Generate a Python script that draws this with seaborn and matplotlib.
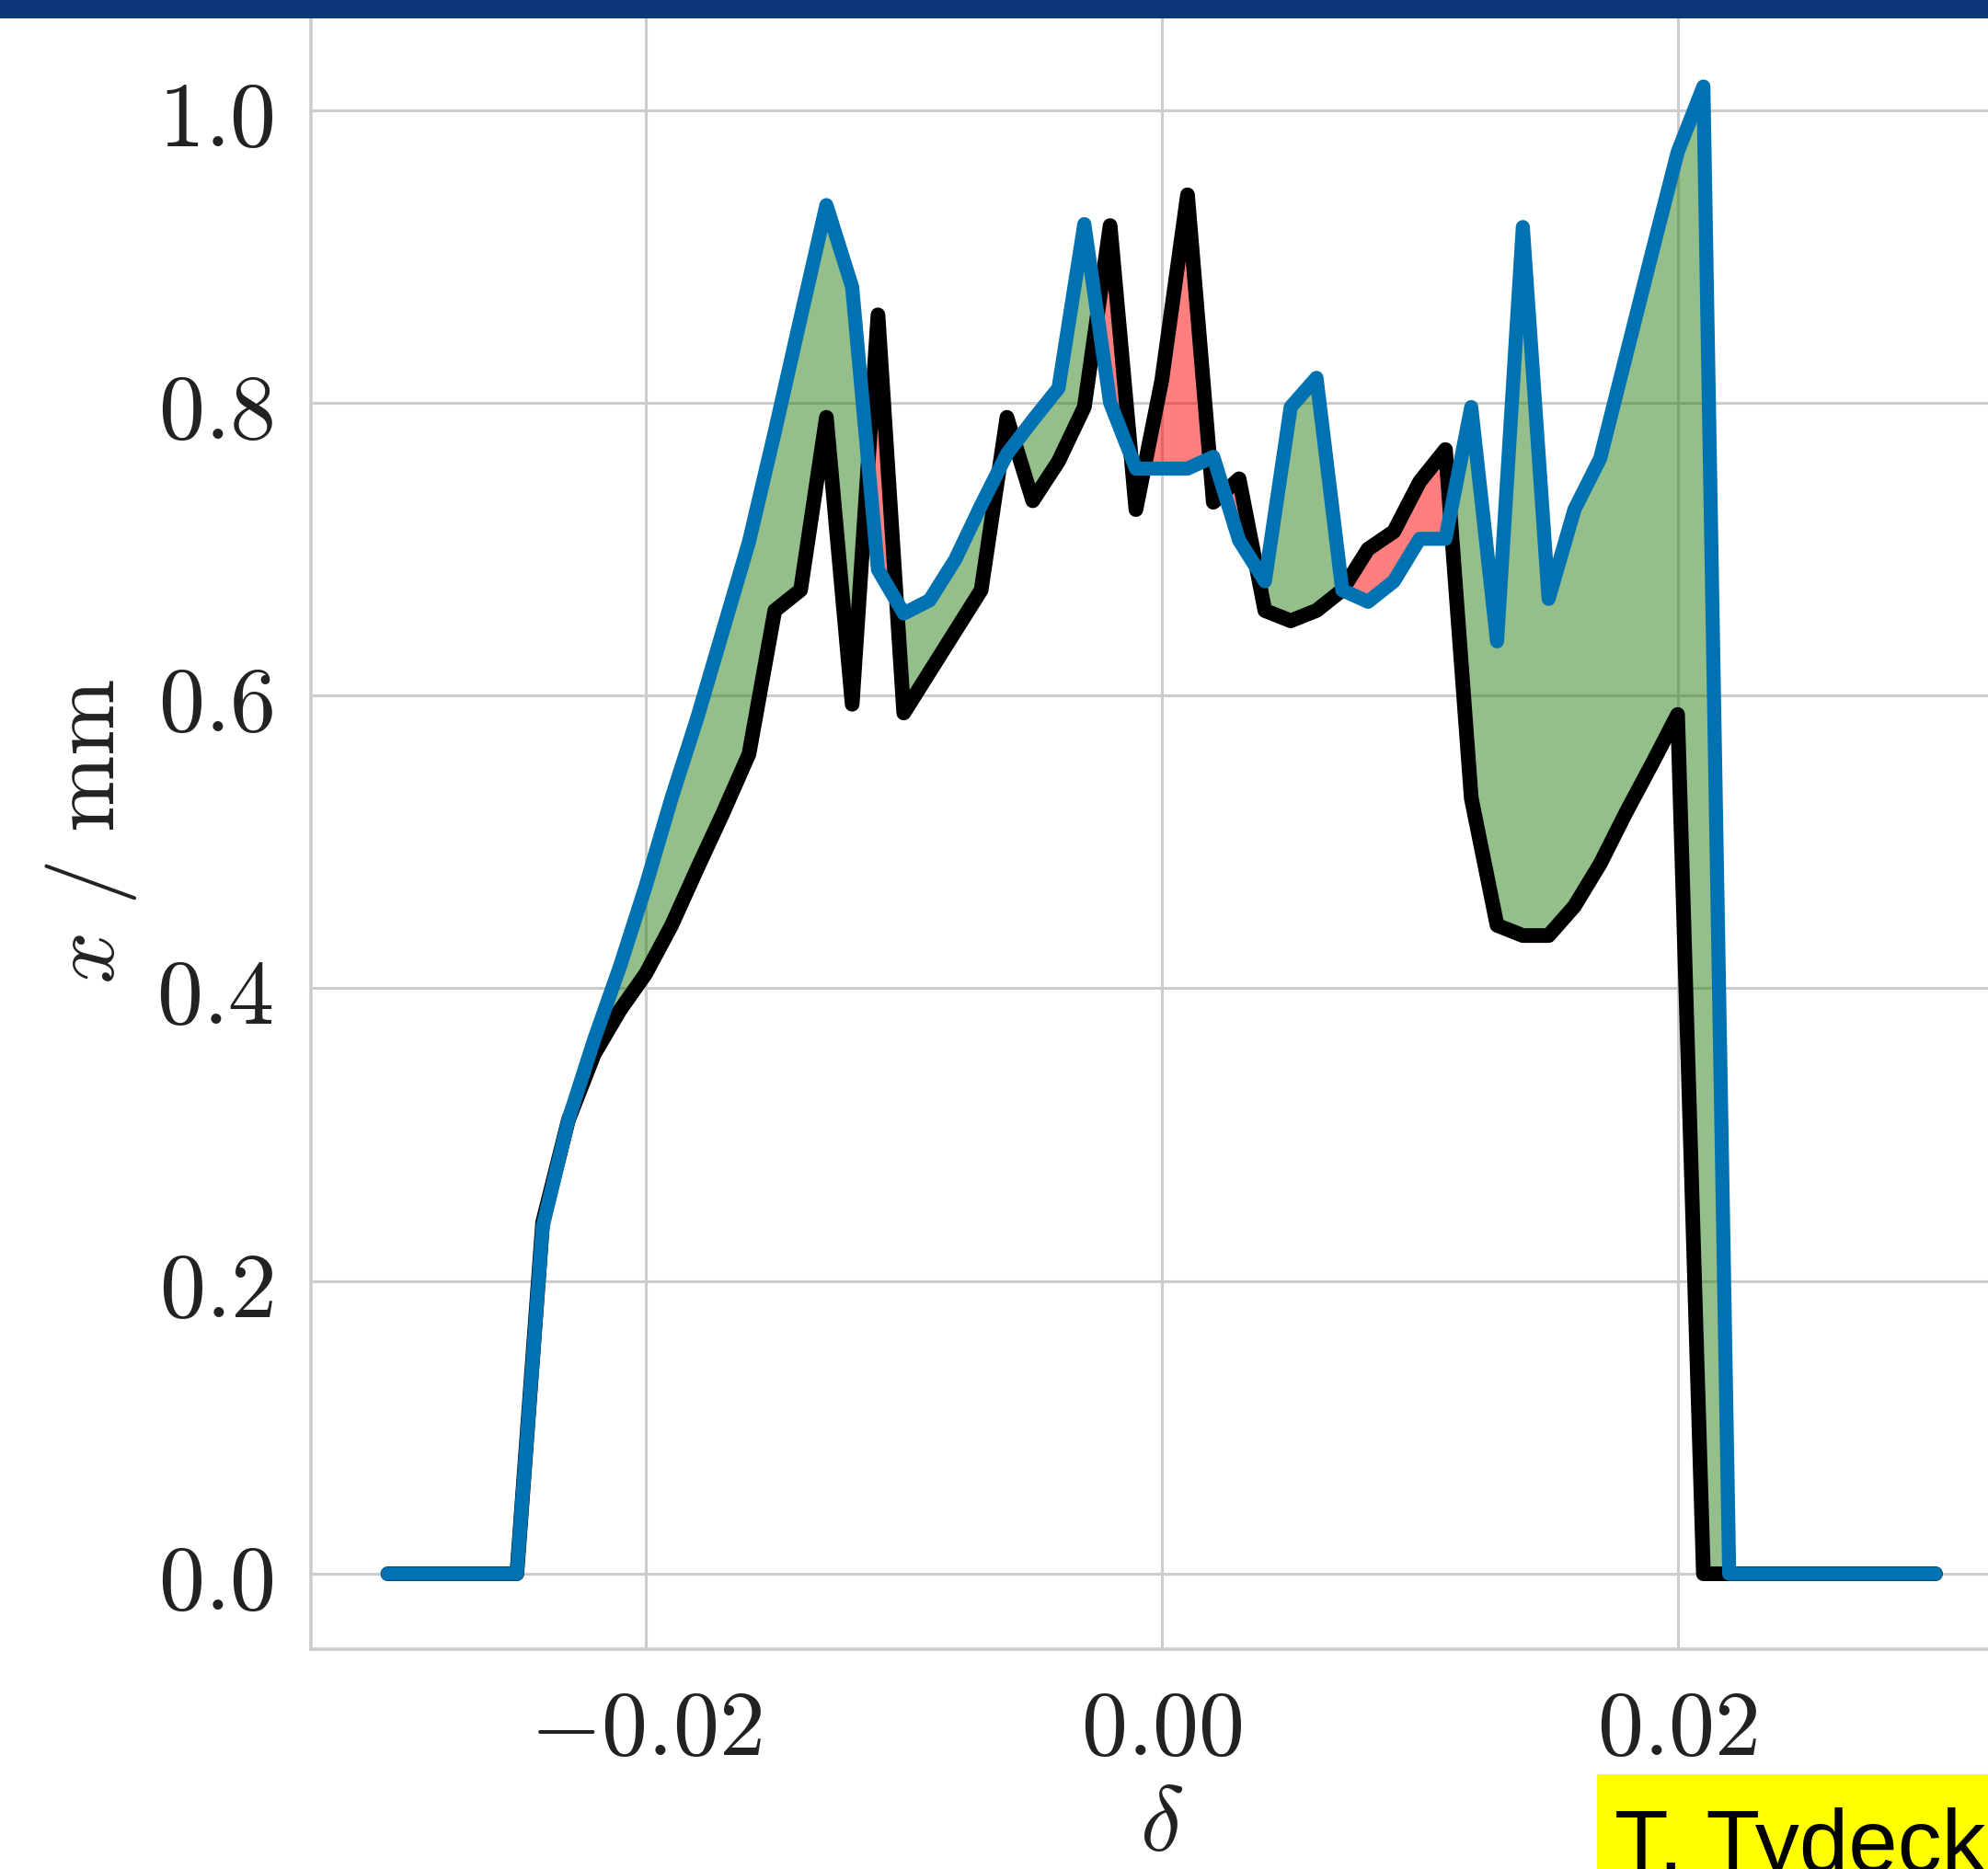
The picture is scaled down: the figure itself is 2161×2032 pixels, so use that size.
import numpy as np
import pandas as pd
import matplotlib
matplotlib.use("Agg")
import matplotlib.pyplot as plt
import seaborn as sns
from matplotlib.ticker import FixedLocator, FuncFormatter
from matplotlib.patches import Rectangle

# relative deviation grid (per mille)
delta_permille = [-30, -29, -28, -27, -26, -25, -24, -23, -22, -21,
                  -20, -19, -18, -17, -16, -15, -14, -13, -12, -11,
                  -10, -9, -8, -7, -6, -5, -4, -3, -2, -1,
                  0, 1, 2, 3, 4, 5, 6, 7, 8, 9,
                  10, 11, 12, 13, 14, 15, 16, 17, 18, 19,
                  20, 21, 22, 23, 24, 25, 26, 27, 28, 29, 30]

# reference profile (black) in mm
x_reference = [0.0, 0.0, 0.0, 0.0, 0.0, 0.0, 0.24, 0.31, 0.355, 0.385,
               0.41, 0.443, 0.482, 0.52, 0.56, 0.658, 0.672, 0.79, 0.594, 0.86,
               0.588, 0.616, 0.644, 0.672, 0.79, 0.733, 0.76, 0.797, 0.921, 0.727,
               0.815, 0.942, 0.732, 0.748, 0.658, 0.651, 0.658, 0.672, 0.70, 0.712,
               0.746, 0.768, 0.53, 0.443, 0.436, 0.436, 0.456, 0.485, 0.52, 0.553,
               0.587, 0.0, 0.0, 0.0, 0.0, 0.0, 0.0, 0.0, 0.0, 0.0, 0.0]

# measured profile (blue) in mm
x_measured = [0.0, 0.0, 0.0, 0.0, 0.0, 0.0, 0.237, 0.31, 0.365, 0.415,
              0.47, 0.53, 0.585, 0.645, 0.705, 0.78, 0.858, 0.935, 0.879, 0.686,
              0.656, 0.665, 0.693, 0.73, 0.765, 0.788, 0.81, 0.922, 0.80, 0.755,
              0.755, 0.755, 0.763, 0.706, 0.678, 0.797, 0.817, 0.672, 0.664, 0.678,
              0.707, 0.707, 0.797, 0.637, 0.92, 0.666, 0.727, 0.762, 0.832, 0.902,
              0.971, 1.016, 0.0, 0.0, 0.0, 0.0, 0.0, 0.0, 0.0, 0.0, 0.0]

x_ticks = [-0.02, 0.0, 0.02]
y_ticks = [0.0, 0.2, 0.4, 0.6, 0.8, 1.0]

df = pd.DataFrame({
    "delta": np.array(delta_permille) / 1000.0,
    "ref": x_reference,
    "meas": x_measured,
})

sns.set_style("whitegrid")
plt.rcParams["mathtext.fontset"] = "cm"
plt.rcParams["font.family"] = ["DejaVu Sans"]

W, H = 2161, 2033
fig = plt.figure(figsize=(W / 100, H / 100), dpi=100)
ax = fig.add_axes([337.5 / W, (H - 1793.5) / H, 1850.6 / W, 1779.3 / H])

d = df["delta"].to_numpy()
r = df["ref"].to_numpy()
m = df["meas"].to_numpy()
ax.fill_between(d, r, m, where=m >= r, interpolate=True,
                color="#2a7f16", alpha=0.5, linewidth=0, zorder=1.5)
ax.fill_between(d, r, m, where=m < r, interpolate=True,
                color="red", alpha=0.5, linewidth=0, zorder=1.5)

sns.lineplot(data=df, x="delta", y="ref", color="black", lw=11.5,
             solid_capstyle="round", solid_joinstyle="round", ax=ax, zorder=3)
sns.lineplot(data=df, x="delta", y="meas", color="#0072b2", lw=11.0,
             solid_capstyle="round", solid_joinstyle="round", ax=ax, zorder=4)

ax.set_xlim(-0.033, 0.033)
ax.set_ylim(-0.0512, 1.0668)
ax.xaxis.set_major_locator(FixedLocator(x_ticks))
ax.yaxis.set_major_locator(FixedLocator(y_ticks))
ax.xaxis.set_major_formatter(FuncFormatter(lambda v, _: f"${v:.2f}$"))
ax.yaxis.set_major_formatter(FuncFormatter(lambda v, _: f"${v:.1f}$"))
ax.tick_params(axis="both", labelsize=72, length=0, labelcolor="#222222")
ax.tick_params(axis="x", pad=28)
ax.tick_params(axis="y", pad=29)

ax.grid(True, color="#cccccc", lw=2.2)
for side in ["left", "bottom", "top", "right"]:
    ax.spines[side].set_color("#cccccc")
    ax.spines[side].set_linewidth(2.6)

ax.set_xlabel(r"$\delta$", fontsize=72, labelpad=5, color="#222222")
ax.set_ylabel(r"$x\ /\ \mathrm{mm}$", fontsize=72, labelpad=14, color="#222222")

# header band
fig.patches.append(Rectangle((0, 1 - 21 / H), 1, 21 / H, transform=fig.transFigure,
                             facecolor="#0c3778", edgecolor="none", zorder=10))
# author tag
fig.patches.append(Rectangle((1736 / W, 0), (W - 1736) / W, (H - 1930) / H,
                             transform=fig.transFigure, facecolor="#ffff00",
                             edgecolor="none", zorder=10))
fig.text(1755 / W, -2 / H, "T. Tydeck", fontsize=69, family="Liberation Sans",
         color="black", ha="left", va="baseline", zorder=11)

fig.savefig("out.png", dpi=100)
